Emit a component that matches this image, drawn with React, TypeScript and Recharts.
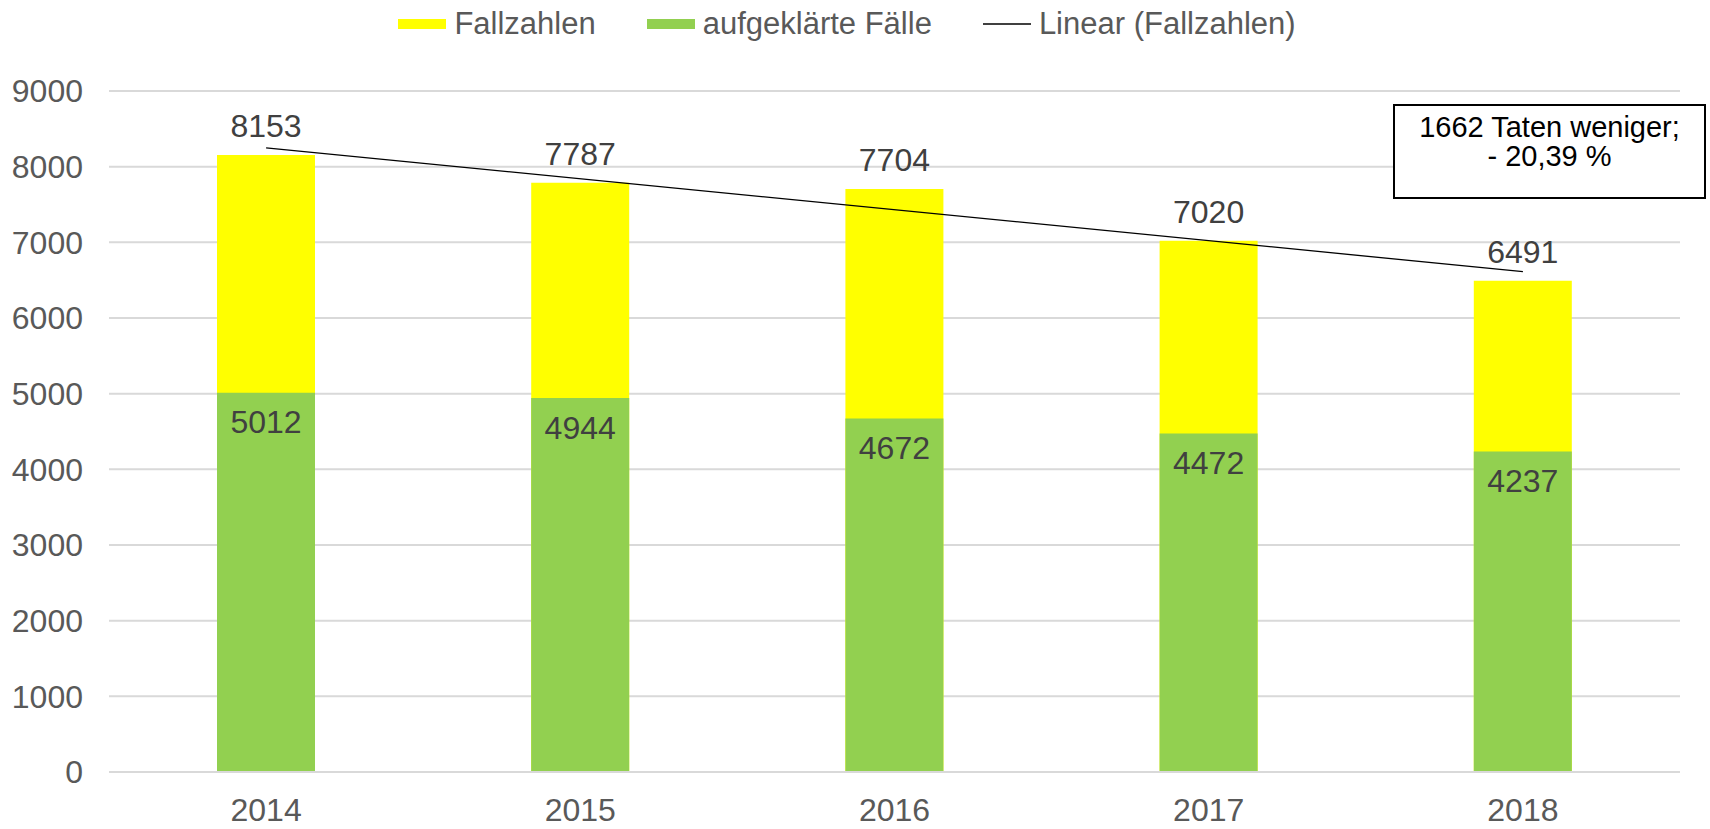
import { ComposedChart, Bar, Line, XAxis, YAxis, CartesianGrid, LabelList } from 'recharts'

const years = ['2014', '2015', '2016', '2017', '2018']
const fallzahlen = [8153, 7787, 7704, 7020, 6491]
const aufgeklaert = [5012, 4944, 4672, 4472, 4237]
// Excel linear trendline, endpoints
const trend = [8249, null, null, null, 6613]
const yTicks = [0, 1000, 2000, 3000, 4000, 5000, 6000, 7000, 8000, 9000]

const data = years.map((year, i) => ({
  year,
  fallzahlen: fallzahlen[i],
  aufgeklaert: aufgeklaert[i],
  trend: trend[i],
}))

const FONT = '"Liberation Sans", Arial, sans-serif'
const YELLOW = '#FFFF00'
const GREEN = '#92D050'
const GRID = '#D9D9D9'
const AXIS_TEXT = '#595959'
const LABEL_TEXT = '#404040'

function LegendRow() {
  const item = { display: 'flex', alignItems: 'center' } as const
  const swatch = (bg: string) => ({ width: 48, height: 10, background: bg, marginRight: 8 })
  return (
    <div
      style={{
        position: 'absolute', top: 5, left: -8, width: 1710, display: 'flex', justifyContent: 'center',
        gap: 51, fontFamily: FONT, fontSize: 31, color: AXIS_TEXT, lineHeight: '38px',
      }}
    >
      <div style={item}><div style={swatch(YELLOW)} />Fallzahlen</div>
      <div style={item}><div style={swatch(GREEN)} />aufgeklärte Fälle</div>
      <div style={item}><div style={{ width: 48, height: 1.5, background: '#404040', marginRight: 8 }} />Linear (Fallzahlen)</div>
    </div>
  )
}

export default function App() {
  return (
    <div style={{ position: 'relative', width: 1710, height: 829, background: '#fff', fontFamily: FONT }}>
      <style>{'body{margin:0}'}</style>
      <ComposedChart
        width={1710}
        height={829}
        data={data}
        margin={{ top: 91, right: 30, bottom: 0, left: 0 }}
        barSize={98}
        barGap={-98}
      >
        <CartesianGrid vertical={false} stroke={GRID} strokeWidth={2} />
        <XAxis
          dataKey="year"
          height={57}
          tickSize={0}
          tickMargin={26}
          tickLine={false}
          axisLine={{ stroke: GRID, strokeWidth: 2 }}
          tick={{ fill: AXIS_TEXT, fontSize: 32, fontFamily: FONT }}
        />
        <YAxis
          width={109}
          domain={[0, 9000]}
          ticks={yTicks}
          tickSize={0}
          tickMargin={26}
          tickLine={false}
          axisLine={false}
          tick={{ fill: AXIS_TEXT, fontSize: 32, fontFamily: FONT }}
        />
        <Bar dataKey="fallzahlen" fill={YELLOW} isAnimationActive={false}>
          <LabelList dataKey="fallzahlen" position="top" offset={18} fill={LABEL_TEXT} fontSize={32} fontFamily={FONT} />
        </Bar>
        <Bar dataKey="aufgeklaert" fill={GREEN} isAnimationActive={false}>
          <LabelList dataKey="aufgeklaert" position="insideTop" offset={18} fill={LABEL_TEXT} fontSize={32} fontFamily={FONT} />
        </Bar>
        <Line
          dataKey="trend"
          type="linear"
          stroke="#000"
          strokeWidth={1.3}
          dot={false}
          activeDot={false}
          connectNulls
          isAnimationActive={false}
        />
      </ComposedChart>
      <LegendRow />
      <div
        style={{
          position: 'absolute', left: 1393, top: 104, width: 313, height: 95, border: '2px solid #000',
          background: '#fff', color: '#000', fontSize: 29, lineHeight: '29px', textAlign: 'center',
          paddingTop: 7, boxSizing: 'border-box', fontFamily: FONT,
        }}
      >
        1662 Taten weniger;<br />- 20,39 %
      </div>
    </div>
  )
}
